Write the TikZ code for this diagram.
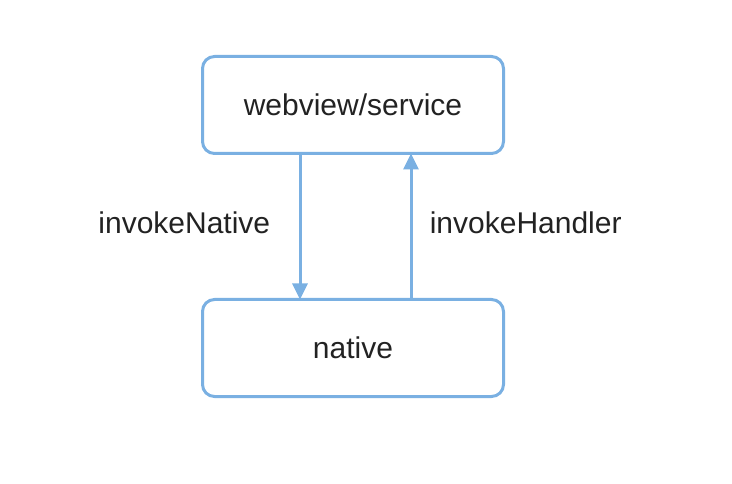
\documentclass[tikz,border=0pt]{standalone}
\usepackage{fontspec}
\setmainfont{Liberation Sans}
\usetikzlibrary{positioning,arrows.meta}
\definecolor{BridgeBlue}{RGB}{122,176,226}
\definecolor{BridgeText}{RGB}{34,34,34}

\begin{document}
\begin{tikzpicture}[x=1pt,y=-1pt,
    bridgebox/.style={draw=BridgeBlue,line width=3pt,rounded corners=12pt,
      minimum width=301pt,minimum height=97pt,inner sep=0pt,
      text=BridgeText,font=\fontsize{30}{36}\selectfont},
    calllabel/.style={text=BridgeText,font=\fontsize{30}{36}\selectfont},
    callarrow/.style={BridgeBlue,line width=3pt,-{Triangle[length=16pt,width=15pt]}}]
        \useasboundingbox (0,0) rectangle (732,484);

        \node[bridgebox] (webview) at (353,105) {webview/service};
        \node[bridgebox] (native) at (353,348) {native};

        % invoke from the page down to native, and the handler back up
        \draw[callarrow,shorten >=-1.5pt,shorten <=-1.5pt] ([xshift=-53pt]webview.south) -- ([xshift=-53pt]native.north)
          node[midway,calllabel,left=25pt,yshift=4pt] (invnative) {invokeNative};
        \draw[callarrow,shorten >=-1.5pt,shorten <=-1.5pt] ([xshift=58pt]native.north) -- ([xshift=58pt]webview.south)
          node[midway,calllabel,right=14pt,yshift=4pt] (invhandler) {invokeHandler};
      \end{tikzpicture}
\end{document}
